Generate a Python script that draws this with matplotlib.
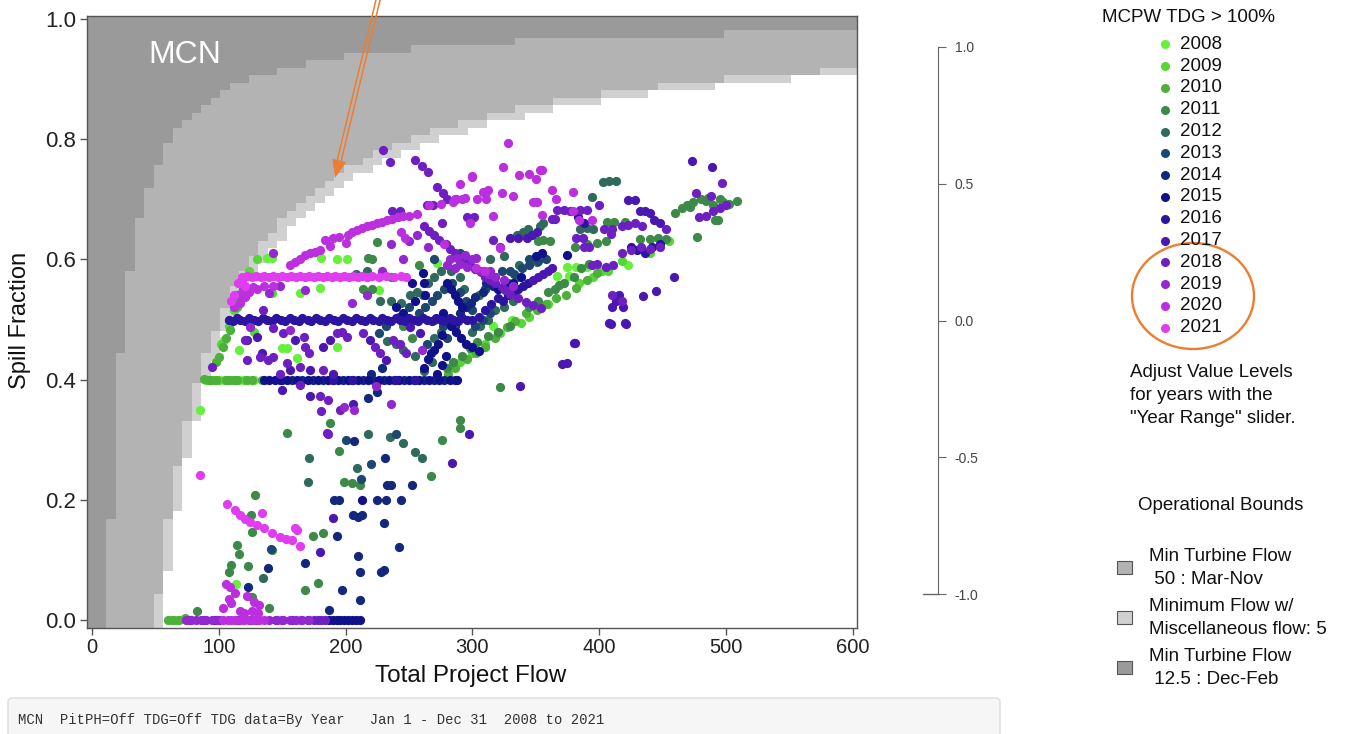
import matplotlib
matplotlib.use("Agg")
import matplotlib.pyplot as plt
import numpy as np
from matplotlib.colors import ListedColormap
from matplotlib.patches import Ellipse, Rectangle, FancyBboxPatch, Polygon
from matplotlib.lines import Line2D

plt.rcParams['font.family'] = ['Liberation Sans', 'DejaVu Sans']

W, H = 1349, 734

# ---------------- data ----------------
years = [2008, 2009, 2010, 2011, 2012, 2013, 2014, 2015, 2016, 2017, 2018, 2019, 2020, 2021]
year_colors = ['#66f03c', '#57d638', '#4cb03a', '#3d8a48', '#2f6a5c', '#1d476e', '#13287c',
               '#10108a', '#2a14a0', '#4a18b0', '#6e1fc2', '#9327d0', '#bb2fdf', '#e03cf0']

# operational bounds (kcfs)
turbine_min_dec_feb = 12.5
turbine_min_mar_nov = 50.0
misc_flow = 5.0
bound_labels = ["Min Turbine Flow\n 50 : Mar-Nov", "Minimum Flow w/\nMiscellaneous flow: 5",
                "Min Turbine Flow\n 12.5 : Dec-Feb"]
bound_colors = ['#b3b3b3', '#d0d0d0', '#9a9a9a']

x_ticks = [0, 100, 200, 300, 400, 500, 600]
y_ticks = [0.0, 0.2, 0.4, 0.6, 0.8, 1.0]
side_ticks = [1.0, 0.5, 0.0, -0.5, -1.0]

pts_2008 = [(62, 0.0), (85, 0.35), (96, 0.40), (104, 0.40), (116, 0.40), (128, 0.40), (104, 0.466),
            (116, 0.45), (113.6, 0.06), (138, 0.603), (142, 0.602), (181, 0.602), (193, 0.600),
            (201, 0.600), (164, 0.544), (180, 0.552), (226, 0.549), (150, 0.452), (154, 0.452),
            (162, 0.436), (193, 0.454), (272, 0.594), (375, 0.587), (382, 0.587), (390, 0.588),
            (367, 0.573), (376, 0.573), (423, 0.590), (353, 0.52), (331, 0.50), (316, 0.49)]
pts_2009 = [(66, 0.0), (90, 0.40), (100, 0.40), (110, 0.40), (120, 0.40), (102, 0.46), (108, 0.49),
            (112, 0.515), (118, 0.545), (124, 0.58), (130, 0.60), (142, 0.544), (128, 0.48),
            (402, 0.58), (407, 0.58), (360, 0.525), (345, 0.505), (300, 0.444), (290, 0.43),
            (310, 0.46), (322, 0.478), (338, 0.495), (395, 0.57), (384, 0.56), (418, 0.598),
            (440, 0.61), (455, 0.63)]
pts_2010 = [(60, 0.0), (64, 0.0), (69, 0.0), (73, 0.003), (88, 0.401), (92, 0.40), (94, 0.40),
            (98, 0.40), (106, 0.40), (108, 0.40), (112, 0.40), (114, 0.40), (122, 0.40), (126, 0.40),
            (134, 0.40), (98, 0.43), (100, 0.438), (103, 0.455), (106, 0.47), (109, 0.483),
            (108, 0.50), (114, 0.52), (116, 0.53), (120, 0.555), (303, 0.445), (310, 0.455),
            (318, 0.47), (327, 0.488), (334, 0.498), (342, 0.51), (351, 0.516), (358, 0.525),
            (366, 0.535), (374, 0.541), (382, 0.552), (390, 0.565), (398, 0.577), (296, 0.435),
            (286, 0.42), (281, 0.41)]
pts_2011 = [(83, 0.015), (126, 0.038), (140, 0.02), (128.5, 0.208), (125.6, 0.174), (126.6, 0.146),
            (142, 0.116), (114, 0.125), (108, 0.08), (110, 0.092), (115.6, 0.11), (123, 0.09),
            (154, 0.311), (188, 0.327), (195, 0.282), (199, 0.23), (205, 0.228), (211, 0.225),
            (174, 0.14), (182, 0.145), (267, 0.24), (178, 0.062), (168, 0.05), (290, 0.32),
            (290, 0.333), (276, 0.30), (322, 0.388), (221, 0.60), (225, 0.629), (218, 0.603),
            (214, 0.55), (221, 0.55), (352, 0.63), (356, 0.632), (361, 0.63), (381, 0.62),
            (390, 0.625), (398, 0.628), (405, 0.63), (432, 0.634), (440, 0.634), (446, 0.636),
            (453, 0.634), (460, 0.677), (469, 0.69), (474, 0.695), (480, 0.70), (484, 0.698),
            (490, 0.69), (495, 0.70), (498, 0.695), (491, 0.665), (494, 0.665), (509, 0.697),
            (477, 0.637), (406, 0.662), (412, 0.662), (420, 0.662), (280, 0.42), (285, 0.43),
            (292, 0.44), (298, 0.452), (304, 0.462), (312, 0.472), (320, 0.48), (330, 0.49),
            (345, 0.52), (352, 0.53), (365, 0.55), (372, 0.56), (380, 0.57), (236, 0.57),
            (258, 0.59), (245, 0.49), (252, 0.47), (472, 0.688), (486, 0.703), (502, 0.692),
            (465, 0.685), (360, 0.545), (368, 0.558), (386, 0.585), (392, 0.592)]
pts_2012 = [(171, 0.27), (170, 0.23), (209, 0.253), (218, 0.31), (235, 0.305), (245, 0.295),
            (255, 0.28), (260, 0.27), (135, 0.07), (403, 0.728), (408, 0.73), (413, 0.731),
            (394, 0.704), (335, 0.64), (340, 0.645), (344, 0.65), (353, 0.655), (356, 0.66),
            (385, 0.65), (390, 0.652), (395, 0.65), (314, 0.60), (325, 0.605), (337, 0.59),
            (351, 0.595), (251, 0.54), (256, 0.545), (261, 0.54), (227, 0.53), (236, 0.53),
            (244, 0.528), (265, 0.56), (270, 0.57), (275, 0.58), (283, 0.58), (290, 0.57),
            (293, 0.55), (297, 0.52), (305, 0.54), (310, 0.55), (315, 0.56), (320, 0.55),
            (328, 0.56), (335, 0.57), (270, 0.47), (275, 0.48), (268, 0.43), (262, 0.415),
            (255, 0.44), (245, 0.45), (240, 0.46), (233, 0.465), (208, 0.575), (217, 0.58),
            (300, 0.48), (306, 0.49), (312, 0.50), (318, 0.515), (325, 0.52), (332, 0.53)]
pts_2013 = [(258, 0.51), (263, 0.52), (268, 0.53), (272, 0.54), (278, 0.55), (284, 0.56),
            (290, 0.545), (295, 0.53), (300, 0.515), (212, 0.235), (220, 0.26), (240, 0.31),
            (200, 0.30), (141, 0.118), (264, 0.46), (280, 0.47), (286, 0.49), (310, 0.55),
            (318, 0.57), (323, 0.58), (330, 0.58), (345, 0.60), (250, 0.52), (242, 0.505),
            (232, 0.49), (226, 0.478), (270, 0.50), (302, 0.49), (308, 0.50), (314, 0.51),
            (290, 0.61), (270, 0.60), (333, 0.575), (339, 0.585), (345, 0.59), (352, 0.598),
            (358, 0.60), (277, 0.49), (281, 0.497), (285, 0.50)]
pts_2014 = [(150, 0.40), (158, 0.40), (166, 0.40), (174, 0.40), (182, 0.40), (190, 0.40),
            (198, 0.40), (206, 0.40), (214, 0.40), (222, 0.40), (230, 0.40), (238, 0.40),
            (246, 0.40), (254, 0.40), (262, 0.40), (270, 0.40), (278, 0.40), (286, 0.40),
            (207, 0.298), (231, 0.27), (233, 0.225), (236, 0.225), (252, 0.225), (191, 0.20),
            (195, 0.20), (206, 0.175), (210, 0.172), (213, 0.175), (225, 0.20), (232, 0.20),
            (244, 0.20), (230, 0.161), (242, 0.121), (193, 0.14), (168, 0.095), (210, 0.106),
            (211, 0.08), (228, 0.08), (230, 0.083), (197, 0.05), (187, 0.017), (211, 0.033),
            (139, 0.086), (123, 0.055), (229, 0.42), (220, 0.41), (225, 0.38), (218, 0.37),
            (290, 0.51), (295, 0.52), (299, 0.528), (302, 0.537), (308, 0.545), (311, 0.56),
            (316, 0.555)]
pts_2015 = [(136, 0.40), (140, 0.40), (144, 0.40), (148, 0.40), (154, 0.40), (162, 0.40),
            (170, 0.40), (178, 0.40), (186, 0.40), (194, 0.40), (202, 0.40), (210, 0.40),
            (218, 0.40), (226, 0.40), (234, 0.40), (242, 0.40), (250, 0.40), (258, 0.40),
            (266, 0.40), (274, 0.40), (282, 0.40), (288, 0.40), (187, 0.0), (190, 0.0),
            (193, 0.0), (196, 0.0), (199, 0.0), (202, 0.0), (205, 0.0), (208, 0.0), (211, 0.0),
            (261, 0.577), (262, 0.56), (263, 0.54), (280, 0.56), (283, 0.55), (286, 0.54),
            (289, 0.53), (292, 0.52), (277, 0.51), (280, 0.50), (283, 0.49), (287, 0.48),
            (291, 0.47), (295, 0.46), (300, 0.455), (305, 0.448), (262, 0.42), (265, 0.435),
            (267, 0.445), (270, 0.45), (320, 0.55), (326, 0.555), (332, 0.56), (338, 0.57),
            (374.6, 0.607), (355, 0.61), (350, 0.605), (240, 0.52), (255, 0.53), (245, 0.51),
            (252, 0.56), (213, 0.20), (272, 0.41), (276, 0.425), (279, 0.44), (273, 0.46),
            (276, 0.475)]
pts_2016 = [(108, 0.50), (111, 0.497), (114, 0.503), (117, 0.50), (121, 0.497), (124, 0.503),
            (128, 0.50), (131, 0.497), (135, 0.503), (138, 0.50), (142, 0.497), (145, 0.503),
            (149, 0.50), (152, 0.497), (156, 0.503), (159, 0.50), (163, 0.497), (166, 0.503),
            (170, 0.50), (173, 0.497), (177, 0.503), (180, 0.50), (184, 0.497), (187, 0.503),
            (191, 0.50), (194, 0.497), (198, 0.503), (201, 0.50), (205, 0.497), (208, 0.503),
            (212, 0.50), (215, 0.497), (219, 0.503), (222, 0.50), (226, 0.497), (229, 0.503),
            (233, 0.50), (236, 0.497), (240, 0.503), (243, 0.50), (247, 0.497), (250, 0.503),
            (254, 0.50), (257, 0.497), (261, 0.503), (264, 0.50), (268, 0.497), (271, 0.503),
            (275, 0.50), (278, 0.497), (282, 0.503), (285, 0.50), (289, 0.497), (292, 0.503),
            (296, 0.50), (300, 0.50), (77, 0.0), (97, 0.0), (125, 0.0), (145, 0.0), (170, 0.0),
            (425, 0.62), (430, 0.615), (436, 0.61), (442, 0.62), (448, 0.625), (383, 0.67),
            (388, 0.66), (324, 0.53), (328, 0.54), (332, 0.545), (336, 0.55), (340, 0.555),
            (344, 0.56), (190, 0.40), (205, 0.40), (240, 0.40), (255, 0.40), (305, 0.505),
            (310, 0.515), (315, 0.525), (320, 0.535)]
pts_2017 = [(423, 0.699), (428, 0.699), (432, 0.68), (436, 0.68), (440, 0.678), (443, 0.665),
            (448, 0.66), (410, 0.52), (413, 0.53), (416, 0.54), (419, 0.52), (415, 0.535),
            (408, 0.494), (420, 0.494), (434.5, 0.539), (445, 0.547), (459, 0.571), (371, 0.426),
            (375, 0.428), (380, 0.461), (337.5, 0.389), (343, 0.635), (347, 0.64), (351, 0.645),
            (330, 0.636), (336, 0.636), (348, 0.565), (352, 0.57), (356, 0.575), (360, 0.58),
            (363, 0.585), (122, 0.466), (130, 0.471), (134, 0.444), (160, 0.466), (182, 0.455),
            (188, 0.466), (219, 0.466), (232, 0.433), (251, 0.488), (259, 0.477), (156, 0.416),
            (172, 0.416), (190, 0.41), (150, 0.383), (172, 0.373), (206, 0.36), (284, 0.262),
            (297, 0.31), (180, 0.113), (190, 0.17), (409, 0.493), (421, 0.493), (381, 0.461),
            (473, 0.764), (489, 0.754)]
pts_2018 = [(262, 0.655), (266, 0.648), (270, 0.641), (274, 0.632), (279, 0.626), (282, 0.617),
            (286, 0.611), (291, 0.603), (294, 0.597), (298, 0.591), (302, 0.584), (307, 0.579),
            (310, 0.571), (314, 0.566), (318, 0.561), (323, 0.554), (326, 0.549), (330, 0.543),
            (336, 0.536), (342, 0.529), (348, 0.524), (354, 0.519), (367, 0.683), (372, 0.683),
            (377, 0.68), (385, 0.683), (390, 0.683), (399.7, 0.69), (497, 0.727), (476, 0.71),
            (488, 0.705), (479, 0.67), (484, 0.672), (490, 0.68), (495, 0.685), (500, 0.69),
            (418, 0.655), (423, 0.658), (428, 0.66), (434, 0.655), (418, 0.61), (425, 0.615),
            (433, 0.62), (440, 0.618), (448, 0.62), (229.7, 0.782), (235, 0.762), (255, 0.765),
            (260, 0.755), (265, 0.745), (272, 0.72), (277, 0.71), (88, 0.0), (100, 0.0), (115, 0.0),
            (130, 0.0), (150, 0.0), (158, 0.0), (165, 0.0), (175, 0.0), (178, 0.0), (181, 0.0),
            (184, 0.0), (143, 0.438), (139, 0.433), (167, 0.471), (168, 0.455), (171, 0.444),
            (193, 0.477), (197, 0.48), (201, 0.471), (214, 0.477), (223, 0.455), (227, 0.444),
            (237.6, 0.466), (243, 0.46), (248, 0.444), (182, 0.416), (164, 0.421), (153.5, 0.427),
            (148, 0.41), (135, 0.516), (143, 0.486), (151, 0.478), (120.6, 0.466), (132.5, 0.438),
            (122, 0.433), (95, 0.421), (164, 0.391), (180, 0.373), (186, 0.366), (181, 0.348),
            (186, 0.31), (196, 0.35), (185, 0.311), (237, 0.68), (243, 0.68), (264, 0.69),
            (269, 0.69), (280, 0.70), (287, 0.70), (296, 0.67), (301, 0.67), (276, 0.66),
            (316, 0.632), (322, 0.62), (404, 0.65), (410, 0.65), (409, 0.642), (411, 0.59),
            (405, 0.588), (394, 0.59), (398, 0.592), (382, 0.635), (387, 0.635), (388, 0.62),
            (392, 0.62), (363, 0.667), (365, 0.667), (453, 0.65), (418, 0.53), (410, 0.54)]
pts_2019 = [(74, 0.0), (78, 0.0), (82, 0.0), (86, 0.0), (90, 0.0), (95, 0.0), (99, 0.0), (140, 0.0),
            (146, 0.0), (151, 0.0), (156, 0.0), (161, 0.0), (166, 0.0), (171, 0.0), (148, 0.555),
            (168, 0.549), (205, 0.528), (216.6, 0.541), (140, 0.544), (124.6, 0.488), (156, 0.483),
            (282, 0.6), (288, 0.603), (294, 0.607), (300, 0.6), (303, 0.603), (306, 0.58),
            (312, 0.575), (318, 0.57), (325, 0.565), (332, 0.555), (280, 0.59), (286, 0.585),
            (290, 0.593), (296, 0.588), (309, 0.58), (314, 0.58), (265, 0.62), (256, 0.64),
            (250, 0.63), (245, 0.6), (229, 0.58), (236, 0.625), (143, 0.61), (224, 0.39),
            (199, 0.355), (207, 0.35), (260, 0.45), (236, 0.36)]
pts_2020 = [(103, 0.0), (107, 0.0), (110, 0.0), (113, 0.0), (117, 0.0), (120, 0.0), (124, 0.0),
            (128, 0.0), (132, 0.0), (136, 0.0), (108, 0.035), (110, 0.028), (117, 0.015),
            (120, 0.012), (126, 0.015), (131, 0.012), (122, 0.04), (113, 0.045), (103, 0.02),
            (128, 0.03), (132, 0.025), (112, 0.52), (116.7, 0.527), (121, 0.537), (124, 0.546),
            (127, 0.554), (130, 0.55), (136, 0.556), (143, 0.555), (114, 0.54), (119, 0.55),
            (156, 0.59), (164, 0.60), (168, 0.607), (172, 0.61), (176, 0.612), (180, 0.615),
            (184, 0.632), (190, 0.635), (195, 0.638), (202, 0.64), (205, 0.645), (209, 0.649),
            (213, 0.652), (217, 0.655), (221, 0.657), (225, 0.66), (229, 0.663), (233, 0.666),
            (237, 0.667), (241, 0.67), (245, 0.672), (250, 0.673), (256, 0.675), (244, 0.645),
            (247, 0.635), (200, 0.628), (188, 0.622), (160, 0.595), (300, 0.737), (294, 0.702),
            (308, 0.712), (311, 0.712), (266, 0.69), (275, 0.692), (285, 0.695), (310, 0.58),
            (303, 0.585), (328, 0.794), (324, 0.754), (300, 0.739), (353, 0.749), (355, 0.749),
            (350, 0.733), (337, 0.74), (345, 0.742), (312, 0.715), (323, 0.71), (332, 0.705),
            (363, 0.716), (379, 0.712), (366, 0.70), (348, 0.695), (351, 0.695), (304, 0.70),
            (311, 0.70), (290, 0.725), (286, 0.70), (292, 0.70), (316, 0.672), (298, 0.66),
            (379, 0.68), (384, 0.665), (394, 0.665), (355, 0.674), (322, 0.619), (278, 0.625),
            (106, 0.06), (109, 0.055)]
pts_2021 = [(118, 0.571), (122, 0.573), (126, 0.571), (129, 0.573), (133, 0.571), (136, 0.573),
            (140, 0.571), (143, 0.573), (147, 0.571), (150, 0.573), (154, 0.571), (157, 0.573),
            (161, 0.571), (164, 0.573), (168, 0.571), (171, 0.573), (175, 0.571), (178, 0.573),
            (182, 0.571), (185, 0.573), (189, 0.571), (192, 0.573), (196, 0.571), (199, 0.573),
            (203, 0.571), (206, 0.573), (210, 0.571), (213, 0.573), (217, 0.571), (221, 0.573),
            (226, 0.571), (232, 0.573), (238, 0.571), (244, 0.573), (248, 0.571), (85, 0.241),
            (106.5, 0.193), (112.8, 0.183), (117, 0.175), (121, 0.168), (124.6, 0.163), (130, 0.158),
            (136, 0.153), (142, 0.145), (148, 0.138), (153, 0.135), (158, 0.133), (164, 0.123),
            (134, 0.178), (160, 0.153), (162, 0.15), (112, 0.54), (115, 0.56), (118, 0.565),
            (121, 0.555), (110, 0.53)]

series = [pts_2008, pts_2009, pts_2010, pts_2011, pts_2012, pts_2013, pts_2014, pts_2015,
          pts_2016, pts_2017, pts_2018, pts_2019, pts_2020, pts_2021]

# ---------------- figure ----------------
fig = plt.figure(figsize=(W / 100, H / 100), dpi=100)


def fx(px):
    return px / W


def fy(py):
    return 1 - py / H


ax = fig.add_axes([fx(87), fy(628), (857 - 87) / W, (628 - 16) / H])
ax.set_xlim(-3.9, 603.3)
ax.set_ylim(-0.0133, 1.005)

# operational-bound raster (grid of flow x spill fraction)
q_step, s_step = 7.5, 0.0125
qc = np.arange(-1, 83) * q_step
sc = np.arange(-1, 83) * s_step
qe = np.append(qc - q_step / 2, qc[-1] + q_step / 2)
se = np.append(sc - s_step / 2, sc[-1] + s_step / 2)
QQ, SS = np.meshgrid(qc, sc)
safe_q = np.where(QQ > 0, QQ, 1e-9)
lim_dark = np.where(QQ > 0, 1 - turbine_min_dec_feb / safe_q, -np.inf)
lim_med = np.where(QQ > 0, 1 - turbine_min_mar_nov / safe_q, -np.inf)
lim_light = np.where(QQ > 0, 1 - (turbine_min_mar_nov + misc_flow) / safe_q, -np.inf)
cat = np.zeros_like(QQ)
cat[SS > lim_light] = 1
cat[SS > lim_med] = 2
cat[SS > lim_dark] = 3
cmap = ListedColormap(['#ffffff', bound_colors[1], bound_colors[0], bound_colors[2]])
ax.pcolormesh(qe, se, cat, cmap=cmap, vmin=-0.5, vmax=3.5, shading='flat', zorder=0)

for pts, col in zip(series, year_colors):
    arr = np.array(pts)
    ax.scatter(arr[:, 0], arr[:, 1], s=44, marker='o', color=col, linewidths=0, zorder=3)

ax.text(73, 0.94, "MCN", color='white', fontsize=23, ha='center', va='center', zorder=4)

for sp in ax.spines.values():
    sp.set_color('#555555')
    sp.set_linewidth(1.0)
ax.set_xticks(x_ticks)
ax.set_xticklabels([str(v) for v in x_ticks], fontsize=14.5)
ax.set_yticks(y_ticks)
ax.set_yticklabels([f"{v:.1f}" for v in y_ticks], fontsize=16)
ax.tick_params(axis='both', direction='out', length=5, width=1, color='#555555', labelcolor='#222222')
ax.tick_params(axis='x', pad=2)
ax.tick_params(axis='y', pad=3)
ax.set_xlabel("Total Project Flow", fontsize=17.5, color='#111111')
ax.set_ylabel("Spill Fraction", fontsize=17, color='#111111')
ax.xaxis.set_label_coords((471 - 87) / 770, (628 - 665) / 612)
ax.yaxis.set_label_coords((31 - 87) / 770, (628 - 320) / 612)

# secondary (side) axis
ax2 = fig.add_axes([fx(923), fy(594), 15 / W, (594 - 47) / H])
ax2.set_ylim(-1, 1)
ax2.set_xlim(0, 1)
ax2.patch.set_alpha(0)
for k in ['left', 'top', 'bottom']:
    ax2.spines[k].set_visible(False)
ax2.spines['right'].set_color('#666666')
ax2.set_xticks([])
ax2.yaxis.tick_right()
ax2.set_yticks(side_ticks)
ax2.set_yticklabels([f"{v:.1f}" for v in side_ticks], fontsize=10, color='#444444')
ax2.tick_params(axis='y', direction='out', length=6, color='#666666', pad=6)
ax2.plot([0, 1], [-1, -1], transform=ax2.get_yaxis_transform(), color='#666666', lw=1, clip_on=False)

# overlay in pixel coordinates
ov = fig.add_axes([0, 0, 1, 1], zorder=10)
ov.set_xlim(0, W)
ov.set_ylim(H, 0)
ov.axis('off')
ov.patch.set_alpha(0)

# legend
ov.text(1188, 17, "MCPW TDG > 100%", fontsize=13.5, ha='center', va='center', color='#111111')
for i, (yr, col) in enumerate(zip(years, year_colors)):
    yy = 44.3 + i * 21.8
    ov.plot([1165], [yy], marker='o', ms=6.5, color=col, mec='none')
    ov.text(1180, yy, str(yr), fontsize=13.5, ha='left', va='center', color='#111111')

ov.text(1130, 372.5, "Adjust Value Levels", fontsize=13.5, ha='left', va='center', color='#111111')
ov.text(1130, 395.5, "for years with the", fontsize=13.5, ha='left', va='center', color='#111111')
ov.text(1130, 418.5, "\"Year Range\" slider.", fontsize=13.5, ha='left', va='center', color='#111111')

ov.text(1221, 505, "Operational Bounds", fontsize=13.5, ha='center', va='center', color='#111111')
for i, (lab, col) in enumerate(zip(bound_labels, bound_colors)):
    yc = 567.5 + i * 50
    ov.add_patch(Rectangle((1117, yc - 6.5), 15, 13, facecolor=col, edgecolor='#555555', lw=0.8))
    l1, l2 = lab.split("\n")
    ov.text(1149, yc - 11, l1, fontsize=13.5, ha='left', va='center', color='#111111')
    ov.text(1149, yc + 12, l2, fontsize=13.5, ha='left', va='center', color='#111111')

# orange arrow (double shaft)
orange = '#ed7d31'
tip = np.array([335.0, 178.0])
start = np.array([378.0, 0.0])
u = (tip - start) / np.linalg.norm(tip - start)
n = np.array([u[1], -u[0]])
shaft_end = tip - 15 * u
for off in (-2.0, 2.0):
    a = start + off * n
    b = shaft_end + off * n
    ov.add_line(Line2D([a[0], b[0]], [a[1], b[1]], color=orange, lw=1.1))
base = tip - 18 * u
ov.add_patch(Polygon([tip, base + 7 * n, base - 7 * n], closed=True, facecolor=orange, edgecolor='none'))

# orange ellipse
ov.add_patch(Ellipse((1193, 296), 122, 106, facecolor='none', edgecolor=orange, lw=1.7))

# bottom status box
ov.add_patch(FancyBboxPatch((8, 698), 992, 50, boxstyle="round,pad=0,rounding_size=4",
                            facecolor='#f6f6f6', edgecolor='#dddddd', lw=1))
ov.text(18, 720, "MCN  PitPH=Off TDG=Off TDG data=By Year   Jan 1 - Dec 31  2008 to 2021",
        fontsize=10, family='Liberation Mono', ha='left', va='center', color='#333333')

fig.savefig("out.png", dpi=100)
